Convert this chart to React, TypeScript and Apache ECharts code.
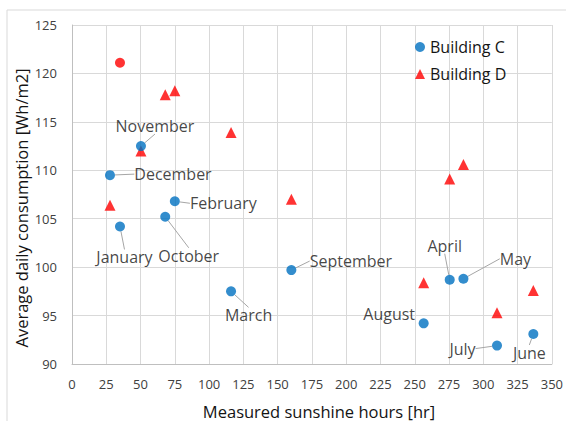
import React, { useEffect, useRef } from "react";
import * as echarts from "echarts";

const months = ["January", "February", "March", "April", "May", "June", "July", "August", "September", "October", "November", "December"];
const sunshineHours = [35, 75, 116, 275.5, 285.5, 336.5, 310, 256.5, 160, 68, 50.3, 27.7];
const buildingC = [104.2, 106.8, 97.5, 98.7, 98.8, 93.1, 91.9, 94.2, 99.7, 105.2, 112.5, 109.5];
const buildingD = [121.1, 118.2, 113.9, 109.1, 110.6, 97.6, 95.3, 98.4, 107.0, 117.8, 112.0, 106.4];
const xTitle = "Measured sunshine hours [hr]";
const yTitle = "Average daily consumption [Wh/m2]";
// label offsets (text centre relative to point centre), px
const labelDx = [4.5, 48.5, 17.5, -5, 52, -4, -34.5, -34.5, 59.5, 23.5, 14, 63];
const labelDy = [31, 2, 24, -34, -20, 19, 3, -9, -9, 39, -20, -1];
const showLeader = [true, true, true, true, true, true, true, false, true, true, true, true];

const FONT = "'Open Sans', 'Noto Sans', sans-serif";
const TEXT = "#141414";

export default function App() {
  const ref = useRef<HTMLDivElement>(null);
  useEffect(() => {
    if (!ref.current) return;
    const chart = echarts.init(ref.current, undefined, { renderer: "svg" });
    chart.setOption({
      animation: false,
      backgroundColor: "#ffffff",
      textStyle: { fontFamily: FONT },
      graphic: [
        {
          type: "rect",
          shape: { x: 7, y: 10, width: 700, height: 600 },
          style: { fill: "none", stroke: "#d9d9d9", lineWidth: 1 },
          silent: true,
          z: -10,
        },
        {
          type: "text",
          x: 319,
          y: 411,
          style: { text: xTitle, fontFamily: FONT, fontSize: 16.5, fill: TEXT, align: "center", verticalAlign: "middle" },
        },
        {
          type: "text",
          x: 21,
          y: 208,
          rotation: Math.PI / 2,
          style: { text: yTitle, fontFamily: FONT, fontSize: 16.5, fill: TEXT, align: "center", verticalAlign: "middle" },
        },
      ],
      grid: { left: 72, right: 14, top: 25, bottom: 57 },
      legend: {
        orient: "vertical",
        left: 410,
        top: 34,
        itemWidth: 10,
        itemHeight: 10,
        itemGap: 11,
        textStyle: { fontFamily: FONT, fontSize: 16, color: TEXT },
        data: ["Building C", "Building D"],
      },
      xAxis: {
        type: "value",
        min: 0,
        max: 350,
        interval: 25,
        axisLine: { show: true, lineStyle: { color: "#bfbfbf" } },
        axisTick: { show: false },
        axisLabel: { fontFamily: FONT, fontSize: 13, color: "#404040", margin: 13 },
        splitLine: { show: true, lineStyle: { color: "#d9d9d9" } },
      },
      yAxis: {
        type: "value",
        min: 90,
        max: 125,
        interval: 5,
        axisLine: { show: true, lineStyle: { color: "#bfbfbf" } },
        axisTick: { show: false },
        axisLabel: { fontFamily: FONT, fontSize: 13, color: "#404040", margin: 15 },
        splitLine: { show: true, lineStyle: { color: "#d9d9d9" } },
      },
      series: [
        {
          name: "Building C",
          type: "scatter",
          symbol: "circle",
          symbolSize: 10,
          itemStyle: { color: "#0070C0" },
          data: sunshineHours.map((x, i) => ({
            value: [x, buildingC[i]],
            name: months[i],
            labelLine: { show: showLeader[i] },
          })),
          z: 3,
          label: {
            show: true,
            formatter: (p: any) => p.name,
            fontFamily: FONT,
            fontSize: 16,
            color: TEXT,
          },
          labelLine: { show: true, lineStyle: { color: "#a6a6a6", width: 1 } },
          labelLayout: (p: any) => {
            const cx = p.rect.x + p.rect.width / 2;
            const cy = p.rect.y + p.rect.height / 2;
            return {
              x: cx + labelDx[p.dataIndex],
              y: cy + labelDy[p.dataIndex],
              align: "center",
              verticalAlign: "middle",
            };
          },
        },
        {
          name: "Building D",
          type: "scatter",
          symbol: "triangle",
          symbolSize: 11,
          itemStyle: { color: "#FF0000" },
          z: 2,
          data: sunshineHours.map((x, i) =>
            i === 0
              ? { value: [x, buildingD[i]], symbol: "circle", symbolSize: 10 }
              : { value: [x, buildingD[i]] }
          ),
        },
      ],
    });
    return () => chart.dispose();
  }, []);
  return (
    <div
      ref={ref}
      style={{ position: "fixed", left: 0, top: 0, width: 566, height: 421 }}
    />
  );
}
